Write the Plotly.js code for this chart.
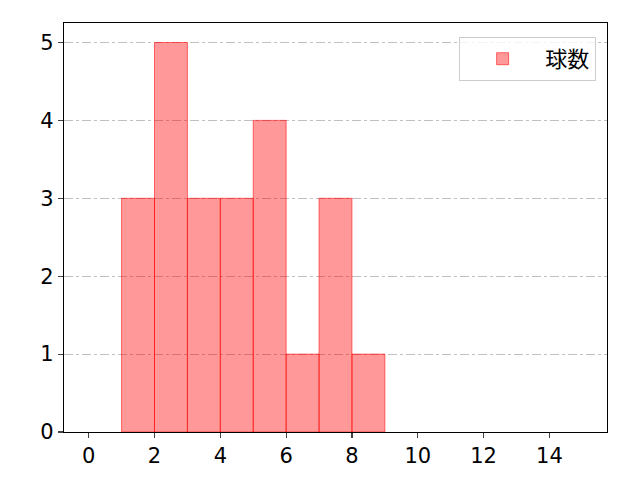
<!DOCTYPE html>
<html><head><meta charset="utf-8">
<script src="https://cdn.plot.ly/plotly-3.0.1.min.js"></script>
<style>body{margin:0;background:#fff}#c{width:640px;height:480px}</style>
</head><body><div id="c"></div>
<script>
const binCenters = [1.5, 2.5, 3.5, 4.5, 5.5, 6.5, 7.5, 8.5];
const counts = [3, 5, 3, 3, 4, 1, 3, 1];
const seriesName = '球数';
const xTicks = [0, 2, 4, 6, 8, 10, 12, 14];
const yTicks = [0, 1, 2, 3, 4, 5];

const fam = '"Noto Sans CJK JP", "DejaVu Sans", sans-serif';
const tickFont = {family: '"DejaVu Sans", sans-serif', size: 21, color: '#000'};
Plotly.newPlot('c', [{
  type: 'bar', x: binCenters, y: counts, width: 1, name: seriesName,
  marker: {color: 'rgba(255,0,0,0.4)', line: {color: 'rgba(255,0,0,0.55)', width: 1}},
  showlegend: true
}], {
  width: 640, height: 480,
  margin: {l: 64, r: 33, t: 23, b: 48},
  paper_bgcolor: '#fff', plot_bgcolor: '#fff',
  font: {family: fam, size: 17, color: '#000'},
  xaxis: {range: [-0.75, 15.75], tickvals: xTicks, ticks: 'outside', ticklen: 5, tickwidth: 1.2,
    tickfont: tickFont, ticklabelstandoff: 0,
    showline: true, linecolor: '#000', linewidth: 1.2, mirror: true, showgrid: false, zeroline: false},
  yaxis: {range: [0, 5.25], tickvals: yTicks, ticks: 'outside', ticklen: 5, tickwidth: 1.2,
    tickfont: tickFont,
    showline: true, linecolor: '#000', linewidth: 1.2, mirror: true, showgrid: true,
    gridcolor: '#b0b0b0', gridwidth: 0.8, griddash: 'dashdot', zeroline: false},
  legend: {x: 0.98, y: 0.966, xanchor: 'right', yanchor: 'top', bordercolor: '#cccccc', borderwidth: 1,
    bgcolor: 'rgba(255,255,255,0.8)', font: {family: fam, size: 22, color: '#000'}, itemwidth: 75},
  bargap: 0
}, {staticPlot: true});
</script></body></html>
